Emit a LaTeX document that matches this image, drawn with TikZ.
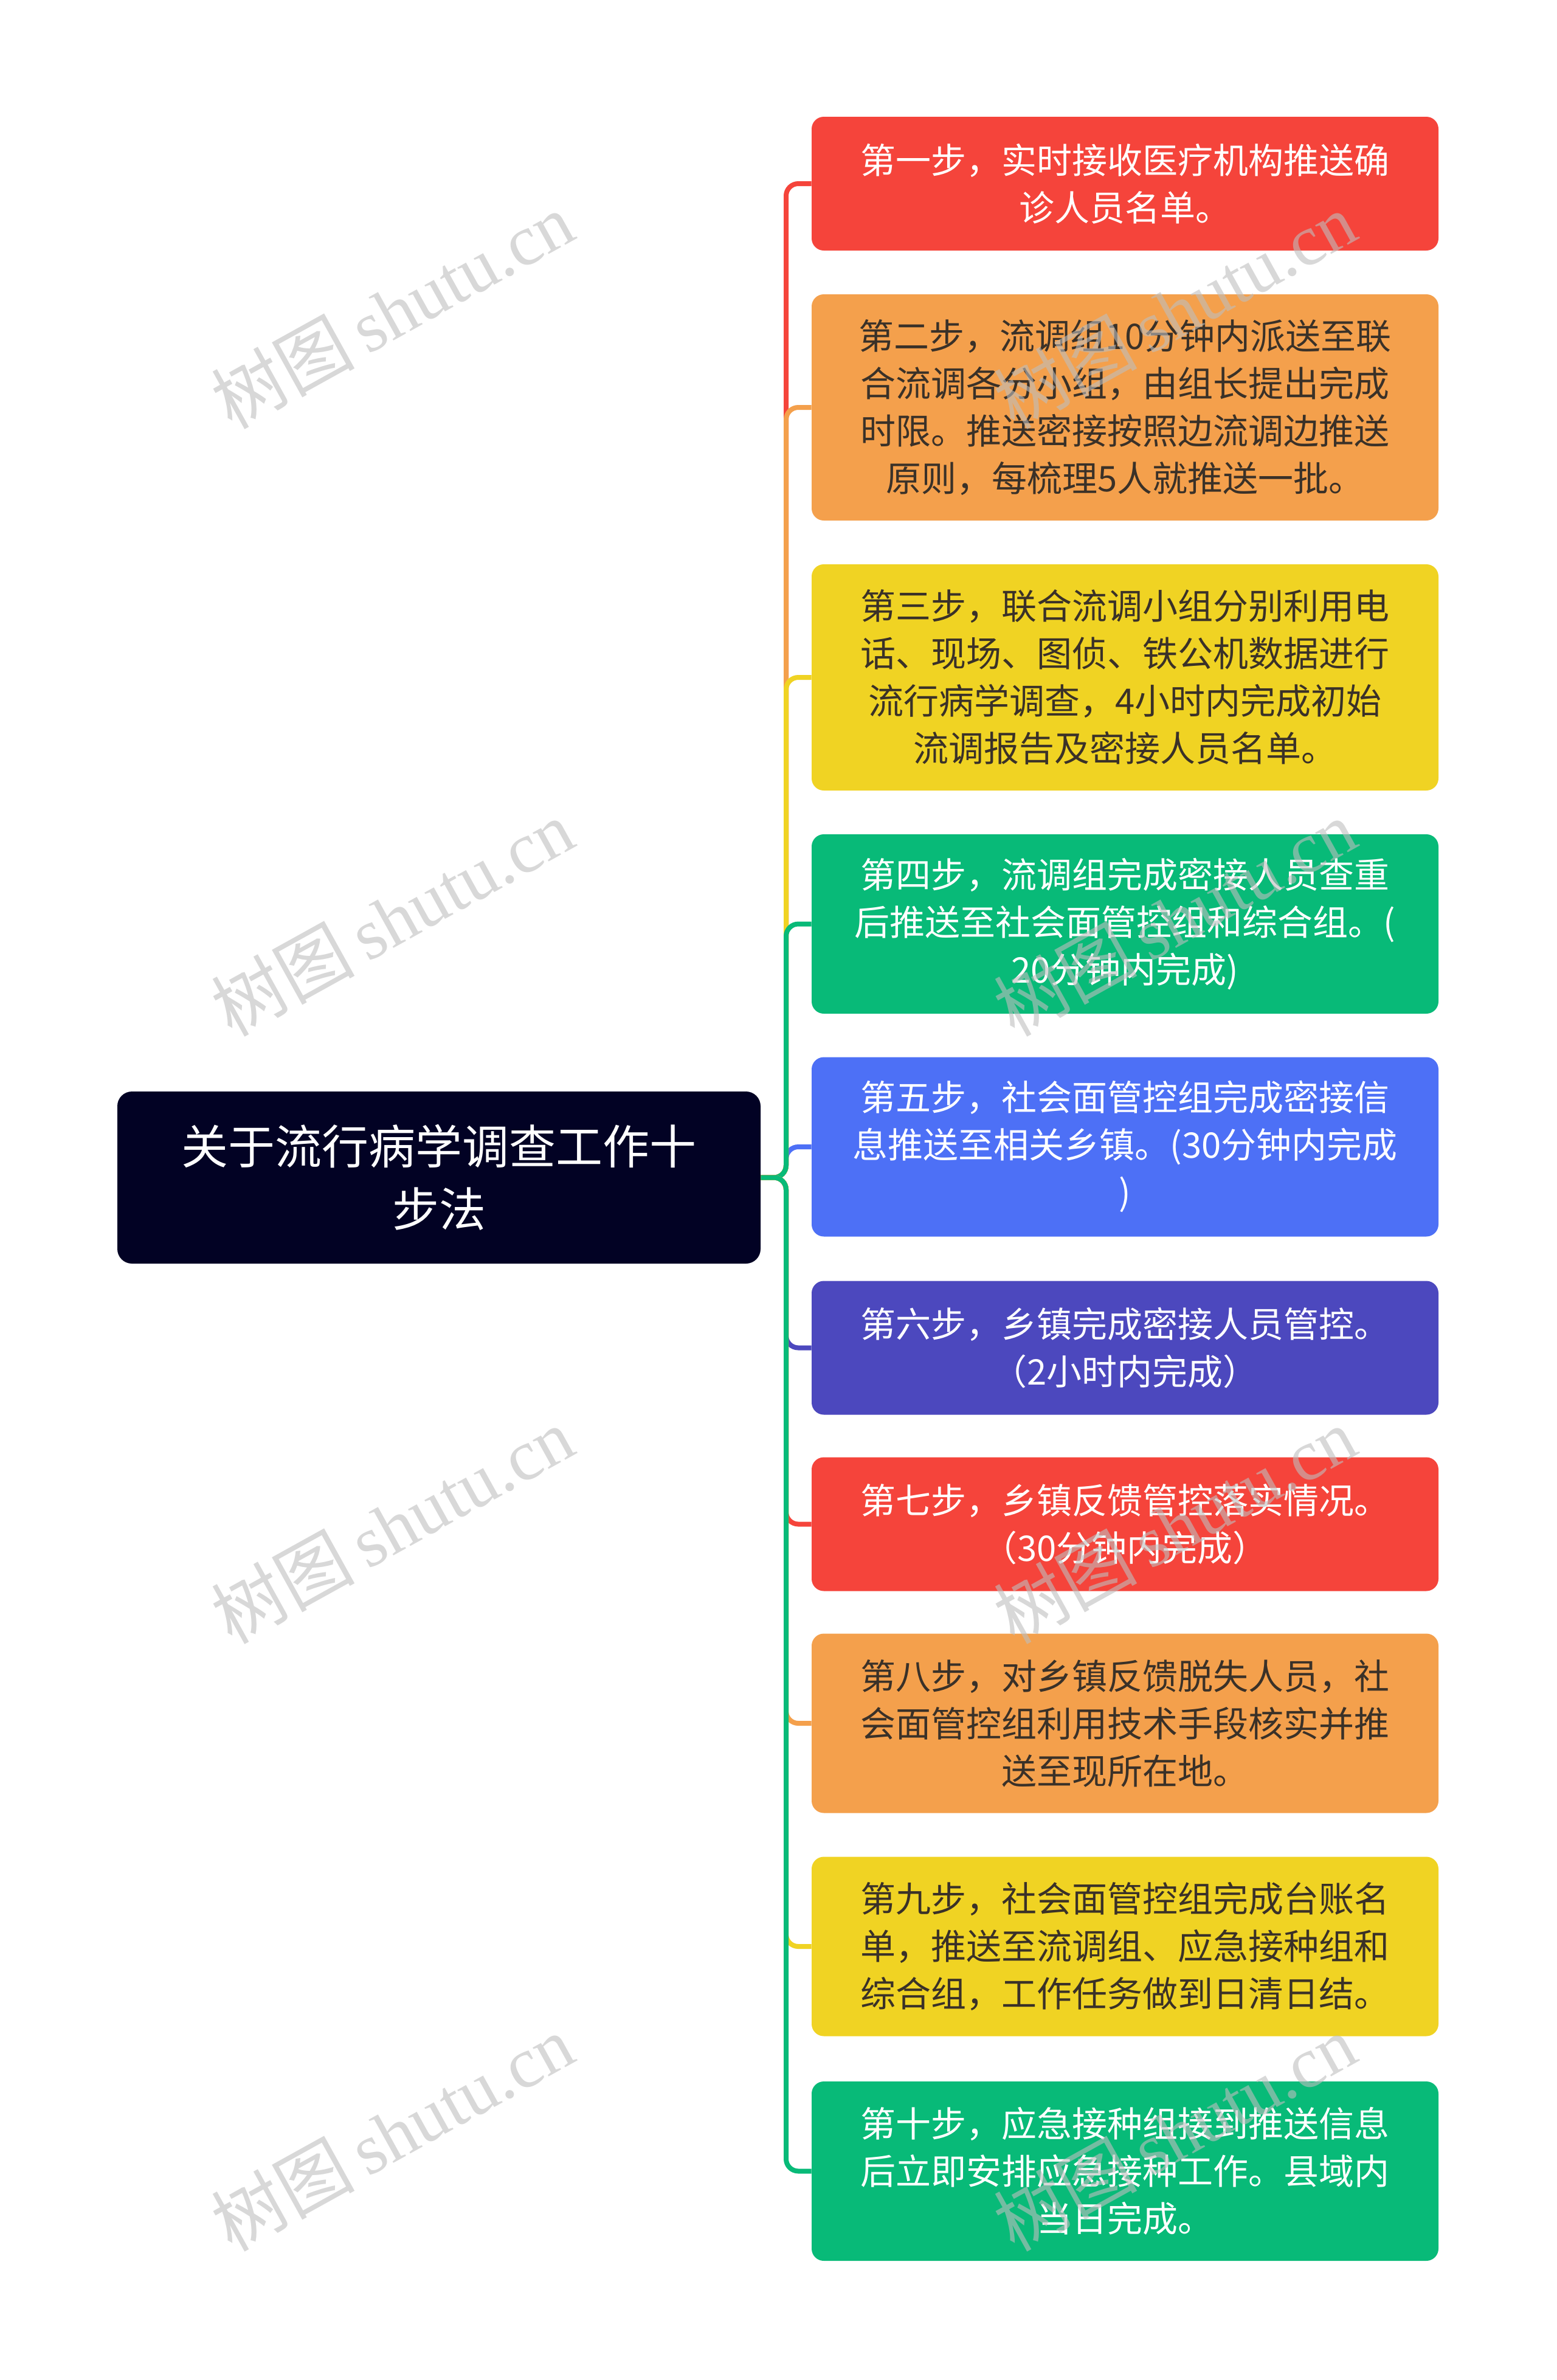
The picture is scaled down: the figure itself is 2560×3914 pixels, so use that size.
\documentclass[tikz,border=0pt]{standalone}
\usepackage{fontspec}
\setmainfont{Noto Sans CJK SC}
\newfontfamily\wmlatin{Liberation Serif}
\newfontfamily\wmcjk{Noto Sans CJK SC}
\definecolor{cRed}{HTML}{F5443B}
\definecolor{cOrange}{HTML}{F4A04C}
\definecolor{cYellow}{HTML}{F0D323}
\definecolor{cGreen}{HTML}{08BA78}
\definecolor{cBlue}{HTML}{4D70F6}
\definecolor{cIndigo}{HTML}{4C48BE}
\definecolor{cRoot}{HTML}{020224}
\definecolor{cDark}{HTML}{3A3128}
\definecolor{cWm}{HTML}{BEBEBE}
\begin{document}
\begin{tikzpicture}[x=0.5pt,y=-0.5pt,
  rootbox/.style={fill=cRoot, rounded corners=12pt, minimum width=529pt, minimum height=141.5pt,
    inner sep=0pt, text width=500pt, align=center, text=white, font=\fontsize{38.5}{51.5}\selectfont},
  stepbox/.style={rounded corners=10pt, minimum width=515.5pt, inner sep=0pt, text width=500pt,
    align=center, font=\fontsize{29}{39}\selectfont},
  two/.style={minimum height=110pt},
  three/.style={minimum height=147.5pt},
  four/.style={minimum height=186pt},
  conn/.style={line width=4pt, rounded corners=10pt},
  wmark/.style={text=cWm, opacity=0.6, rotate=29, inner sep=0pt, font=\fontsize{59}{62}\selectfont}
]
\useasboundingbox (0,0) rectangle (2560,3914);
\fill[white] (0,0) rectangle (2560,3914);

\node[rootbox] (root) at (722,1936.5) {关于流行病学调查工作十\\步法};
\coordinate (sp) at (1293,1936.5);

\node[stepbox,two,fill=cRed,text=white] (c1) at (1850.5,302) {第一步，实时接收医疗机构推送确\\诊人员名单。};
\node[stepbox,four,fill=cOrange,text=cDark] (c2) at (1850.5,670) {第二步，流调组10分钟内派送至联\\合流调各分小组，由组长提出完成\\时限。推送密接按照边流调边推送\\原则，每梳理5人就推送一批。};
\node[stepbox,four,fill=cYellow,text=cDark] (c3) at (1850.5,1114) {第三步，联合流调小组分别利用电\\话、现场、图侦、铁公机数据进行\\流行病学调查，4小时内完成初始\\流调报告及密接人员名单。};
\node[stepbox,three,fill=cGreen,text=white] (c4) at (1850.5,1519.5) {第四步，流调组完成密接人员查重\\后推送至社会面管控组和综合组。(\\20分钟内完成)};
\node[stepbox,three,fill=cBlue,text=white] (c5) at (1850.5,1886) {第五步，社会面管控组完成密接信\\息推送至相关乡镇。(30分钟内完成\\)};
\node[stepbox,two,fill=cIndigo,text=white] (c6) at (1850.5,2216.5) {第六步，乡镇完成密接人员管控。\\（2小时内完成）};
\node[stepbox,two,fill=cRed,text=white] (c7) at (1850.5,2506.5) {第七步，乡镇反馈管控落实情况。\\（30分钟内完成）};
\node[stepbox,three,fill=cOrange,text=cDark] (c8) at (1850.5,2834) {第八步，对乡镇反馈脱失人员，社\\会面管控组利用技术手段核实并推\\送至现所在地。};
\node[stepbox,three,fill=cYellow,text=cDark] (c9) at (1850.5,3201) {第九步，社会面管控组完成台账名\\单，推送至流调组、应急接种组和\\综合组，工作任务做到日清日结。};
\node[stepbox,three,fill=cGreen,text=white] (c10) at (1850.5,3570.5) {第十步，应急接种组接到推送信息\\后立即安排应急接种工作。县域内\\当日完成。};

\draw[conn,cBlue] (root.east) -- (sp) -- (sp |- c5.west) -- (c5.west);
\draw[conn,cRed] (root.east) -- (sp) -- (sp |- c1.west) -- (c1.west);
\draw[conn,cOrange] (root.east) -- (sp) -- (sp |- c2.west) -- (c2.west);
\draw[conn,cYellow] (root.east) -- (sp) -- (sp |- c3.west) -- (c3.west);
\draw[conn,cGreen] (root.east) -- (sp) -- (sp |- c4.west) -- (c4.west);
\draw[conn,cIndigo] (root.east) -- (sp) -- (sp |- c6.west) -- (c6.west);
\draw[conn,cRed] (root.east) -- (sp) -- (sp |- c7.west) -- (c7.west);
\draw[conn,cOrange] (root.east) -- (sp) -- (sp |- c8.west) -- (c8.west);
\draw[conn,cYellow] (root.east) -- (sp) -- (sp |- c9.west) -- (c9.west);
\draw[conn,cGreen] (root.east) -- (sp) -- (sp |- c10.west) -- (c10.west);

\foreach \yy [count=\i] in {510,1509,2508,3507} {
  \node[wmark] (wl\i) at (645,\yy) {{\wmcjk 树图}\,{\wmlatin shutu.cn}};
  \node[wmark] (wr\i) at (1932,\yy) {{\wmcjk 树图}\,{\wmlatin shutu.cn}};
}
\end{tikzpicture}
\end{document}
